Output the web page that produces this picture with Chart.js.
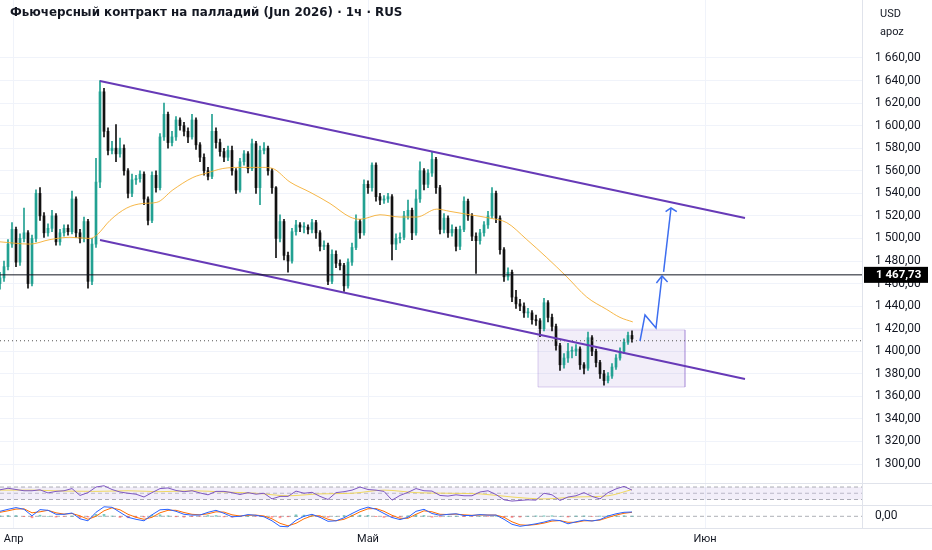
<!DOCTYPE html>
<html>
<head>
<meta charset="utf-8">
<script src="https://cdn.jsdelivr.net/npm/chart.js@4.4.1/dist/chart.umd.min.js"></script>
<style>
    body { margin: 0; background: #fff; }
    #wrap { position: relative; width: 932px; height: 550px; overflow: hidden; font-family: Roboto, sans-serif; color: #131722; }
    .pane { position: absolute; left: 0; width: 932px; }
    .sep { position: absolute; left: 0; width: 932px; height: 1px; background: #e0e3eb; }
    #title { position: absolute; left: 10px; top: 5px; font: bold 11.9px "DejaVu Sans", sans-serif; white-space: nowrap; }
    .unit { position: absolute; left: 880px; font-size: 11px; }
</style>
</head>
<body>
<div id="wrap">
    <div class="pane" style="top:0;height:483px"><canvas id="mainChart" width="932" height="483"></canvas></div>
    <div class="pane" style="top:483px;height:22px"><canvas id="rsiChart" width="932" height="22"></canvas></div>
    <div class="pane" style="top:505px;height:45px"><canvas id="macdChart" width="932" height="45"></canvas></div>
    <div class="sep" style="top:483px"></div>
    <div class="sep" style="top:505px"></div>
    <div class="sep" style="top:528px"></div>
    <div id="title">Фьючерсный контракт на палладий (Jun 2026) · 1ч · RUS</div>
    <div class="unit" style="top:7px">USD</div>
    <div class="unit" style="top:25px">apoz</div>
</div>
<script>
// hourly candles, one value per bar (bar index = x)
var firstOpen = 1460;
var closes = [1465,1475,1495,1508,1479,1500,1505,1460,1500,1540,
    1520,1505,1509,1520,1497,1505,1509,1506,1535,1505,
    1500,1515,1462,1495,1550,1630,1595,1578,1580,1575,
    1580,1560,1540,1552,1553,1557,1535,1516,1556,1545,
    1590,1610,1585,1590,1605,1600,1595,1590,1605,1583,
    1572,1560,1555,1595,1585,1577,1572,1578,1560,1543,
    1568,1575,1562,1584,1545,1578,1580,1560,1545,1500,
    1515,1485,1480,1506,1512,1510,1510,1508,1514,1505,
    1493,1494,1462,1486,1478,1476,1458,1479,1492,1515,
    1505,1548,1545,1565,1537,1534,1535,1537,1495,1500,
    1501,1520,1525,1505,1535,1560,1548,1558,1570,1545,
    1508,1518,1505,1508,1493,1508,1533,1520,1502,1498,
    1505,1512,1520,1540,1518,1490,1466,1470,1448,1442,
    1440,1434,1434,1428,1427,1420,1443,1430,1422,1405,
    1388,1394,1400,1400,1402,1388,1385,1412,1400,1390,
    1380,1374,1378,1386,1394,1400,1408,1414,1411];
var highs = [1470,1480,1499,1514,1510,1504,1527,1507,1503,1543,
    1545,1523,1513,1525,1522,1508,1512,1512,1542,1537,
    1508,1519,1517,1500,1571,1640,1633,1598,1586,1601,
    1589,1583,1562,1557,1556,1560,1559,1537,1559,1560,
    1593,1620,1612,1595,1608,1607,1603,1598,1610,1607,
    1585,1575,1563,1610,1598,1588,1580,1582,1582,1562,
    1571,1578,1577,1588,1586,1582,1585,1582,1562,1546,
    1521,1517,1488,1509,1516,1514,1514,1512,1517,1516,
    1507,1498,1496,1490,1489,1481,1478,1482,1496,1521,
    1517,1552,1551,1567,1567,1540,1538,1540,1539,1504,
    1505,1524,1534,1527,1543,1568,1562,1561,1577,1572,
    1547,1522,1520,1512,1510,1511,1537,1535,1522,1505,
    1508,1515,1524,1545,1542,1520,1492,1474,1472,1454,
    1446,1443,1438,1436,1432,1429,1447,1445,1433,1424,
    1407,1398,1407,1404,1406,1404,1390,1417,1414,1402,
    1392,1383,1381,1389,1397,1403,1411,1417,1418];
var lows = [1455,1462,1472,1492,1475,1476,1497,1456,1458,1497,
    1516,1501,1502,1506,1494,1494,1502,1503,1504,1501,
    1496,1497,1456,1459,1492,1545,1590,1574,1575,1568,
    1572,1556,1536,1537,1548,1550,1530,1512,1514,1541,
    1543,1587,1580,1582,1587,1596,1591,1585,1588,1579,
    1568,1556,1552,1553,1580,1573,1568,1569,1556,1540,
    1541,1565,1558,1560,1540,1530,1575,1556,1540,1483,
    1497,1481,1470,1478,1503,1506,1505,1504,1505,1500,
    1489,1490,1459,1460,1474,1472,1453,1456,1476,1490,
    1500,1503,1540,1542,1533,1530,1531,1532,1481,1490,
    1496,1499,1517,1499,1503,1532,1543,1545,1555,1540,
    1504,1505,1501,1502,1489,1490,1506,1516,1498,1469,
    1495,1502,1509,1518,1514,1486,1462,1463,1444,1438,
    1436,1430,1430,1424,1423,1413,1418,1426,1418,1401,
    1383,1385,1390,1394,1396,1384,1380,1383,1396,1386,
    1376,1370,1372,1376,1384,1392,1398,1406,1408];

// moving average, read at a few bars
var maIdx = [0,7.5,12.5,17.5,22.5,24.2,27.5,31.7,35.7,39.2,43.2,48.2,51.7,55.7,60,65.7,68.2,72.5,77.5,82.5,87.5,90,95,100,104.2,109.2,112.5,117.5,122.5,126.7,131.7,136.7,141.7,146.7,151.7,155,158.2];
var maVal = [1497,1495,1499,1501,1500,1503,1516,1527,1531,1532,1543,1554,1558,1562,1563,1563,1562,1550,1541,1531,1519,1517,1521,1519,1519,1526,1524,1521,1518,1514,1499,1483,1466,1448,1437,1430,1426];

// RSI and MACD, one value every 2 bars
var oscStep = 2;
var rsi = [61,66,62,58,58,61,51,56,58,65,
    43,52,70,74,62,54,50,47,38,52,
    65,67,59,55,58,51,45,56,56,52,
    46,52,47,50,32,40,40,57,50,53,
    40,30,52,55,60,70,62,60,56,28,
    43,53,65,58,57,43,41,45,42,42,
    54,58,46,29,25,27,29,28,50,45,
    27,38,42,52,40,32,52,64,72,60];
var rsiMaIdx = [0,8,16,24,32,40,48,56,64,72,80,88,96,104,112,120,128,136,144,152,158];
var rsiMaVal = [60,60,57,56,58,55,58,54,50,42,48,50,60,52,50,48,38,32,38,42,62];
var rsiLevels = [70, 50, 30];
var macd = [0.5,0.7,0.87,0.7,0.05,0.67,0.6,0.2,0.2,0.33,
    -0.25,-0.45,0.4,0.95,0.9,0.4,-0.1,-0.3,-0.45,0.15,
    0.65,0.7,0.5,0.2,0.12,0.13,0.4,0.6,0.3,-0.05,
    0,0.17,0.1,-0.05,-0.45,-1.0,-1.05,-0.4,0,0.2,
    -0.1,-0.5,-0.45,-0.15,0.28,0.67,0.92,0.7,0.28,-0.12,
    -0.33,-0.1,0.5,0.7,0.28,0.1,0.2,0.25,0.08,0.08,
    0.17,0.12,0.12,-0.3,-0.8,-1.0,-0.88,-0.75,-0.58,-0.36,
    -0.43,-0.75,-0.55,-0.38,-0.47,-0.33,0.03,0.25,0.4,0.43];
var signal = [0.4,0.55,0.72,0.75,0.35,0.45,0.6,0.35,0.22,0.28,
    0.05,-0.3,0,0.55,0.85,0.65,0.2,-0.1,-0.3,-0.1,
    0.35,0.6,0.6,0.38,0.2,0.15,0.25,0.45,0.42,0.15,
    0.03,0.1,0.12,0.03,-0.25,-0.7,-0.95,-0.7,-0.25,0.05,
    0.05,-0.3,-0.45,-0.3,0.05,0.45,0.75,0.78,0.5,0.1,
    -0.2,-0.2,0.2,0.55,0.45,0.2,0.18,0.22,0.15,0.1,
    0.13,0.13,0.12,-0.1,-0.55,-0.85,-0.9,-0.82,-0.68,-0.48,
    -0.43,-0.6,-0.6,-0.45,-0.45,-0.38,-0.12,0.12,0.3,0.4];
var hist = [0.05,0.08,0.08,-0.03,-0.15,0.11,0,-0.08,-0.01,0.03,
    -0.15,-0.08,0.2,0.2,0.03,-0.12,-0.15,-0.1,-0.08,0.12,
    0.15,0.05,-0.05,-0.09,-0.04,-0.01,0.08,0.08,-0.06,-0.1,
    -0.02,0.04,-0.01,-0.04,-0.1,-0.15,-0.05,0.15,0.12,0.08,
    -0.08,-0.1,0,0.08,0.12,0.11,0.09,-0.04,-0.11,-0.11,
    -0.07,0.05,0.15,0.08,-0.09,-0.05,0.01,0.02,-0.04,-0.01,
    0.02,-0.01,0,-0.1,-0.12,-0.08,0.01,0.04,0.05,0.06,
    0,-0.08,0.03,0.04,-0.01,0.03,0.08,0.07,0.05,0.02];

// axes
var xMin = 0, xMax = 215.5;
var monthTicks = [3.4, 92, 176.25];
var monthLabels = ['Апр', 'Май', 'Июн'];
var priceMin = 1283.2, priceMax = 1711.4;
var priceTicks = [1300,1320,1340,1360,1380,1400,1420,1440,1460,1480,1500,1520,1540,1560,1580,1600,1620,1640,1660];

// drawings, in [bar, price]
var channelTop = [[25, 1639.6], [186.25, 1518.2]];
var channelBottom = [[25, 1498.7], [186.25, 1375.4]];
var levelLine = 1467.73;
var lastPrice = 1409.3;
var zone = [[134.5, 1418.9], [171.25, 1368.3]];
var arrowOne = [[160, 1409.1], [161.25, 1432.2], [164, 1420.6], [165.5, 1466.7]];
var arrowOneHead = [[164.1, 1460.5], [165.5, 1466.7], [166.9, 1461.4]];
var arrowTwo = [[165.9, 1470.3], [167.75, 1527.0]];
var arrowTwoHead = [[166.4, 1523.7], [167.75, 1527.0], [169.2, 1523.7]];

var upColor = '#22a192', downColor = '#111111';
var gridColor = '#f0f3fa', borderColor = '#e0e3eb';

Chart.defaults.font.family = 'Roboto, sans-serif';
Chart.defaults.font.size = 11;
Chart.defaults.color = '#131722';

function fmtPrice(v) {
    var parts = v.toFixed(2).split('.');
    var intPart = parts[0].replace(/\B(?=(\d{3})+(?!\d))/g, ' ');
    return intPart + ',' + parts[1];
}

function pts(arr) {
    return arr.map(function(p) { return { x: p[0], y: p[1] }; });
}

function flat(level) {
    return [{ x: xMin, y: level }, { x: xMax, y: level }];
}

function drawLine(data, color, width, dash, order) {
    return {
        type: 'line', data: data, borderColor: color, borderWidth: width,
        borderDash: dash || [], pointRadius: 0, tension: 0, fill: false, order: order
    };
}

function rightAxis(extra) {
    var axis = {
        position: 'right',
        grid: { display: false, drawTicks: false },
        border: { display: true, color: borderColor },
        ticks: { padding: 13 },
        afterFit: function(s) { s.width = 70; s.paddingTop = 0; s.paddingBottom = 0; }
    };
    return Object.assign(axis, extra);
}

function timeAxis(showLabels) {
    return {
        type: 'linear', min: xMin, max: xMax, offset: false,
        grid: { color: gridColor, drawTicks: false, offset: false },
        border: { display: false },
        ticks: {
            display: showLabels, autoSkip: false, maxRotation: 0, padding: 5,
            callback: function(v) {
                var i = monthTicks.indexOf(v);
                return i >= 0 ? monthLabels[i] : '';
            }
        },
        afterBuildTicks: function(s) { s.ticks = monthTicks.map(function(v) { return { value: v }; }); },
        afterFit: function(s) {
            s.height = showLabels ? 22 : 0;
            s.paddingLeft = 0; s.paddingRight = 0;
        }
    };
}

var opens = closes.map(function(c, i) { return i === 0 ? firstOpen : closes[i - 1]; });
var candleColors = closes.map(function(c, i) { return c >= opens[i] ? upColor : downColor; });

var zoneRect = [
    [zone[0][0], zone[0][1]], [zone[1][0], zone[0][1]],
    [zone[1][0], zone[1][1]], [zone[0][0], zone[1][1]], [zone[0][0], zone[0][1]]
];

var priceTag = {
    id: 'priceTag',
    afterDraw: function(chart) {
        var ctx = chart.ctx;
        var y = chart.scales.y.getPixelForValue(levelLine);
        var left = chart.chartArea.right + 2;
        ctx.save();
        ctx.fillStyle = '#000';
        ctx.fillRect(left, y - 8, 64, 16);
        ctx.fillStyle = '#fff';
        ctx.font = 'bold 11.5px Roboto, sans-serif';
        ctx.textBaseline = 'middle';
        ctx.fillText(fmtPrice(levelLine), left + 12, y + 0.5);
        ctx.restore();
    }
};

new Chart(document.getElementById('mainChart'), {
    type: 'bar',
    data: {
        datasets: [
            {
                type: 'line', data: pts(zoneRect), fill: 'shape',
                backgroundColor: 'rgba(149,117,205,0.12)', borderColor: 'rgba(149,117,205,0.35)',
                borderWidth: 1, pointRadius: 0, tension: 0, order: 10
            },
            {
                data: closes.map(function(c, i) { return { x: i, y: [lows[i], highs[i]] }; }),
                backgroundColor: candleColors, barThickness: 1, grouped: false, order: 6
            },
            {
                data: closes.map(function(c, i) { return { x: i, y: [opens[i], c] }; }),
                backgroundColor: candleColors, barThickness: 2, minBarLength: 1, grouped: false, order: 5
            },
            {
                type: 'line', data: maIdx.map(function(x, i) { return { x: x, y: maVal[i] }; }),
                borderColor: 'rgba(245,170,40,0.85)', borderWidth: 1, pointRadius: 0,
                cubicInterpolationMode: 'monotone', fill: false, order: 4
            },
            drawLine(flat(lastPrice), '#555', 1, [1, 3], 3),
            drawLine(flat(levelLine), '#131722', 1, null, 2),
            drawLine(pts(channelTop), '#673ab7', 2, null, 2),
            drawLine(pts(channelBottom), '#673ab7', 2, null, 2),
            drawLine(pts(arrowOne), '#3d6ef0', 1.5, null, 1),
            drawLine(pts(arrowOneHead), '#3d6ef0', 1.5, null, 1),
            drawLine(pts(arrowTwo), '#3d6ef0', 1.5, null, 1),
            drawLine(pts(arrowTwoHead), '#3d6ef0', 1.5, null, 1)
        ]
    },
    options: {
        responsive: false,
        animation: false,
        layout: { padding: 0 },
        plugins: { legend: { display: false }, tooltip: { enabled: false } },
        scales: {
            x: timeAxis(false),
            y: rightAxis({
                min: priceMin, max: priceMax,
                grid: { color: gridColor, drawTicks: false },
                ticks: { padding: 13, font: { size: 12 }, callback: function(v) { return fmtPrice(v); } },
                afterBuildTicks: function(s) { s.ticks = priceTicks.map(function(v) { return { value: v }; }); }
            })
        }
    },
    plugins: [priceTag]
});

// RSI pane
var rsiPoints = rsi.map(function(v, k) { return { x: k * oscStep, y: v }; });
new Chart(document.getElementById('rsiChart'), {
    type: 'line',
    data: {
        datasets: [
            {
                data: flat(rsiLevels[0]), borderColor: 'rgba(120,123,134,0.6)', borderWidth: 1,
                borderDash: [4, 3], pointRadius: 0, fill: '+2', backgroundColor: 'rgba(126,87,194,0.1)', order: 5
            },
            drawLine(flat(rsiLevels[1]), 'rgba(120,123,134,0.45)', 1, [4, 3], 5),
            drawLine(flat(rsiLevels[2]), 'rgba(120,123,134,0.6)', 1, [4, 3], 5),
            {
                data: rsiMaIdx.map(function(x, i) { return { x: x, y: rsiMaVal[i] }; }),
                borderColor: 'rgba(240,214,80,0.9)', borderWidth: 1, pointRadius: 0,
                cubicInterpolationMode: 'monotone', fill: false, order: 2
            },
            drawLine(rsiPoints, '#7e57c2', 1, null, 1)
        ]
    },
    options: {
        responsive: false,
        animation: false,
        layout: { padding: 0 },
        plugins: { legend: { display: false }, tooltip: { enabled: false } },
        scales: {
            x: timeAxis(false),
            y: rightAxis({ min: 12.4, max: 82.8, ticks: { display: false } })
        }
    }
});

// MACD pane with the time axis
new Chart(document.getElementById('macdChart'), {
    type: 'bar',
    data: {
        datasets: [
            drawLine(flat(0), 'rgba(120,123,134,0.6)', 1, [4, 3], 5),
            {
                data: hist.map(function(v, k) { return { x: k * oscStep, y: v }; }),
                backgroundColor: hist.map(function(v) { return v >= 0 ? 'rgba(38,166,154,0.6)' : 'rgba(255,82,82,0.6)'; }),
                barThickness: 2, order: 4
            },
            drawLine(signal.map(function(v, k) { return { x: k * oscStep, y: v }; }), '#ff6d00', 1, null, 2),
            drawLine(macd.map(function(v, k) { return { x: k * oscStep, y: v }; }), '#2962ff', 1, null, 1)
        ]
    },
    options: {
        responsive: false,
        animation: false,
        layout: { padding: 0 },
        plugins: { legend: { display: false }, tooltip: { enabled: false } },
        scales: {
            x: timeAxis(true),
            y: rightAxis({
                min: -1.17, max: 1.13,
                ticks: { padding: 13, font: { size: 12 }, callback: function(v) { return fmtPrice(v); } },
                afterBuildTicks: function(s) { s.ticks = [{ value: 0 }]; }
            })
        }
    }
});
</script>
</body>
</html>
